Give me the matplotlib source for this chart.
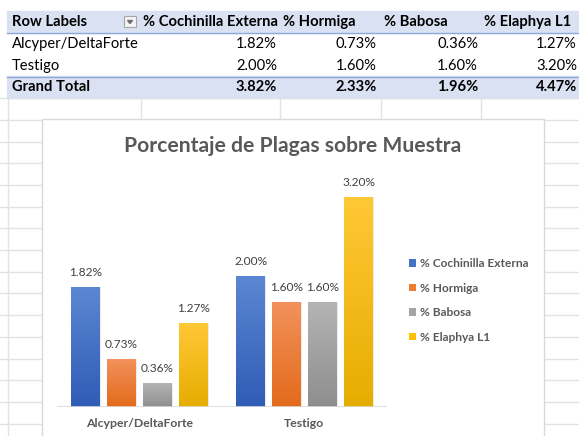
import numpy as np
import matplotlib
matplotlib.use("Agg")
import matplotlib.pyplot as plt
from matplotlib.colors import LinearSegmentedColormap
from matplotlib.patches import Rectangle, Patch, Polygon

plt.rcParams['font.family'] = ['Lato', 'DejaVu Sans']

# datos de la tabla dinamica
categorias = ['Alcyper/DeltaForte', 'Testigo']
series = ['% Cochinilla Externa', '% Hormiga', '% Babosa', '% Elaphya L1']
valores = [
    [1.82, 2.00],   # Cochinilla Externa
    [0.73, 1.60],   # Hormiga
    [0.36, 1.60],   # Babosa
    [1.27, 3.20],   # Elaphya L1
]
total_general = [3.82, 2.33, 1.96, 4.47]

colores = ['#4472C4', '#ED7D31', '#A5A5A5', '#FFC000']
grad_arriba = ['#5B87D2', '#F2925C', '#B4B4B4', '#FFC836']
grad_abajo = ['#2F5CB6', '#E36A1B', '#8E8E8E', '#E6AD00']

W, H = 579, 436
fig = plt.figure(figsize=(W / 100, H / 100), dpi=100)

# ---- hoja de calculo (fondo) en pixeles ----
bg = fig.add_axes([0, 0, 1, 1])
bg.set_xlim(0, W)
bg.set_ylim(H, 0)
bg.axis('off')

fila = 21.7
y0 = 11.4
cols = [8, 141, 280, 381, 481]
grid = '#E2E2E2'
# cuadricula debajo de la tabla
y = y0 + 4 * fila
while y < H:
    bg.plot([0, W], [y, y], color=grid, lw=1, zorder=0)
    y += fila
for c in cols:
    bg.plot([c, c], [y0 + 4 * fila, H], color=grid, lw=1, zorder=0)

# tabla dinamica
azul_claro = '#D9E1F2'
bg.add_patch(Rectangle((7, y0), W - 7, fila, color=azul_claro, zorder=1))
bg.add_patch(Rectangle((7, y0 + 3 * fila), W - 7, fila, color=azul_claro, zorder=1))
bg.plot([7, W], [y0 + fila + 0.4, y0 + fila + 0.4], color='#8EA9DB', lw=1, zorder=2)
bg.plot([7, W], [y0 + 3 * fila + 0.4, y0 + 3 * fila + 0.4], color='#8EA9DB', lw=1, zorder=2)

fs_t = 10.6
yc = [y0 + fila * (i + 0.5) for i in range(4)]
bg.text(12, yc[0], 'Row Labels', fontsize=fs_t, fontweight='bold', va='center', ha='left')
# boton del filtro
bg.add_patch(Rectangle((124, 16.5), 12, 11, facecolor='#F4F4F4', edgecolor='#A6A6A6', lw=0.8, zorder=3))
bg.add_patch(Polygon([[127.5, 20.5], [132.5, 20.5], [130, 23.5]], closed=True, color='#6E6E6E', zorder=4))
izq = [143, 283, 384, 484]
der = [277, 377, 478, 577]
for j, s in enumerate(series):
    bg.text(izq[j], yc[0], s, fontsize=fs_t, fontweight='bold', va='center', ha='left')
for i, cat in enumerate(categorias):
    bg.text(12, yc[i + 1], cat, fontsize=fs_t, va='center', ha='left')
    for j in range(len(series)):
        bg.text(der[j], yc[i + 1], '%.2f%%' % valores[j][i], fontsize=fs_t, va='center', ha='right')
bg.text(12, yc[3], 'Grand Total', fontsize=fs_t, fontweight='bold', va='center', ha='left')
for j in range(len(series)):
    bg.text(der[j], yc[3], '%.2f%%' % total_general[j], fontsize=fs_t, fontweight='bold', va='center', ha='right')

# area del grafico
bg.add_patch(Rectangle((41.5, y0 + 5 * fila - 0.5), 502, H, facecolor='white', edgecolor='#D9D9D9', lw=1, zorder=5))
bg.text(292.5, 146, 'Porcentaje de Plagas sobre Muestra', fontsize=15.2, fontweight='bold',
        color='#595959', ha='center', va='center', zorder=6)

# ---- grafico de barras ----
px_pct = 65.4
ymax = 3.5
base = 407
ax = fig.add_axes([57 / W, (H - base) / H, 330 / W, ymax * px_pct / H])
ax.set_zorder(10)
ax.patch.set_alpha(0)

paso = 36 / 165
ancho = 29 / 165
x = np.arange(len(categorias))
grad = np.linspace(0, 1, 256).reshape(-1, 1)
for j, s in enumerate(series):
    cmap = LinearSegmentedColormap.from_list('g%d' % j, [grad_abajo[j], grad_arriba[j]])
    for i in range(len(categorias)):
        xc = x[i] + (j - 1.5) * paso
        v = valores[j][i]
        # sombra suave
        ax.add_patch(Rectangle((xc - ancho / 2 + 0.004, 0), ancho + 0.004, v + 0.01,
                               color='#000000', alpha=0.08, lw=0, zorder=1))
        ax.imshow(grad, extent=[xc - ancho / 2, xc + ancho / 2, 0, v], origin='lower',
                  aspect='auto', cmap=cmap, zorder=2)
        ax.annotate('%.2f%%' % v, (xc, v), xytext=(0, 15), textcoords='offset pixels',
                    ha='center', va='center', fontsize=8.6, color='#404040')

ax.set_xlim(-0.5, len(categorias) - 0.5)
ax.set_ylim(0, ymax)
ax.axhline(0, color='#D9D9D9', lw=1.2, zorder=3)
for sp in ax.spines.values():
    sp.set_visible(False)
ax.set_yticks([])
ax.set_xticks(x)
ax.set_xticklabels(categorias, fontsize=8.8, fontweight='bold', color='#595959')
ax.tick_params(axis='x', length=0, pad=8)

handles = [Patch(facecolor=c, label=s) for c, s in zip(colores, series)]
leg = fig.legend(handles=handles, loc='center left', bbox_to_anchor=(403 / W, (H - 300.5) / H),
                 frameon=False, fontsize=8.6, handlelength=0.6, handleheight=0.6,
                 handletextpad=0.3, labelspacing=1.12, borderpad=0)
for t in leg.get_texts():
    t.set_color('#595959')
    t.set_fontweight('bold')

fig.savefig('out.png', dpi=100)
